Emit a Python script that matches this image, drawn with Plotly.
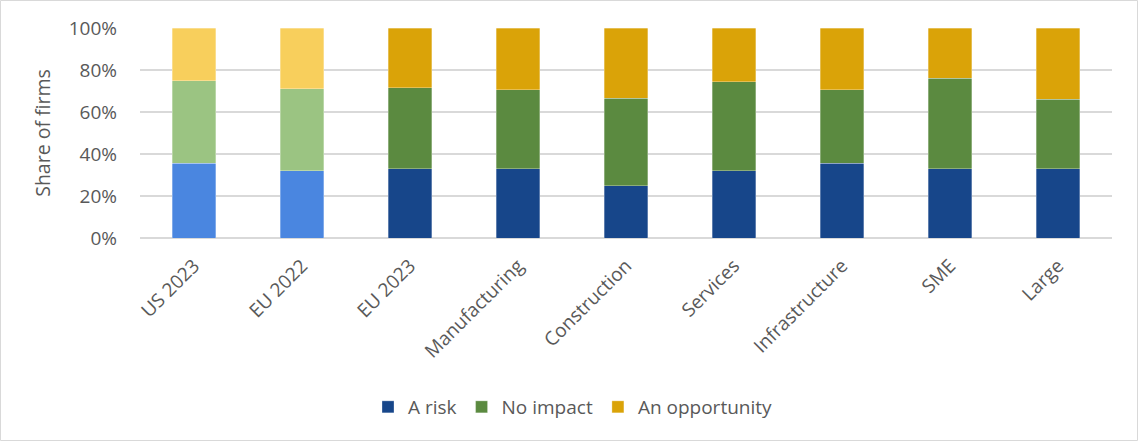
import plotly.graph_objects as go

# Share of firms by how they view the issue
categories = ["US 2023", "EU 2022", "EU 2023", "Manufacturing", "Construction",
              "Services", "Infrastructure", "SME", "Large"]
a_risk = [35.5, 32, 33, 33, 25, 32, 35.5, 33, 33]
no_impact = [39.5, 39, 38.5, 37.5, 41.5, 42.5, 35, 43, 33]
an_opportunity = [25, 29, 28.5, 29.5, 33.5, 25.5, 29.5, 24, 34]

# The first two categories are comparison surveys, drawn in lighter tints
n_light = 2

series = [
    ("A risk", a_risk, "#4A86E0", "#17468A"),
    ("No impact", no_impact, "#9BC482", "#5B8A40"),
    ("An opportunity", an_opportunity, "#F8CF5C", "#DAA308"),
]

FONT = "'Open Sans', Lato, sans-serif"
TEXT = "#595959"
FS = 19

fig = go.Figure()
for name, vals, light, dark in series:
    fig.add_trace(go.Bar(
        x=categories[:n_light], y=[v / 100 for v in vals[:n_light]],
        name=name, legendgroup=name, showlegend=False,
        marker=dict(color=light, line=dict(color="rgba(255,255,255,0.5)", width=0.6)),
    ))
    fig.add_trace(go.Bar(
        x=categories[n_light:], y=[v / 100 for v in vals[n_light:]],
        name=name, legendgroup=name, showlegend=True,
        marker=dict(color=dark, line=dict(color="rgba(255,255,255,0.5)", width=0.6)),
    ))

W, H = 1138, 441
ML, MR, MT, MB = 140, 26, 28, 203
pw, ph = W - ML - MR, H - MT - MB

fig.update_layout(
    width=W, height=H,
    margin=dict(l=ML, r=MR, t=MT, b=MB),
    barmode="stack", bargap=0.6,
    plot_bgcolor="white", paper_bgcolor="white",
    font=dict(family=FONT, size=FS, color=TEXT),
    legend=dict(orientation="h", x=(573 - ML) / pw, xanchor="center",
                y=(MT + ph - 407) / ph, yanchor="middle", traceorder="normal",
                font=dict(family=FONT, size=FS, color=TEXT),
                itemwidth=30, tracegroupgap=0),
    shapes=[dict(type="rect", xref="paper", yref="paper",
                 x0=(0.5 - ML) / pw, x1=(W - 0.5 - ML) / pw,
                 y0=(MT + ph - (H - 0.5)) / ph, y1=(MT + ph - 0.5) / ph,
                 line=dict(color="#D9D9D9", width=1), layer="below")],
)
fig.update_xaxes(
    categoryorder="array", categoryarray=categories,
    tickangle=-45, showgrid=False, showline=False, zeroline=False,
    ticklabelstandoff=12,
    tickfont=dict(family=FONT, size=FS, color=TEXT),
)
fig.update_yaxes(
    range=[0, 1], tickvals=[0, 0.2, 0.4, 0.6, 0.8, 1.0], tickformat=".0%",
    showgrid=True, gridcolor="#D9D9D9", gridwidth=1.5,
    zeroline=True, zerolinecolor="#D9D9D9", zerolinewidth=1.5, showline=False,
    ticklabelstandoff=22,
    tickfont=dict(family=FONT, size=FS, color=TEXT),
    title=dict(text="Share of firms", standoff=12,
               font=dict(family=FONT, size=19.5, color=TEXT)),
)

fig.write_html("out.html")
